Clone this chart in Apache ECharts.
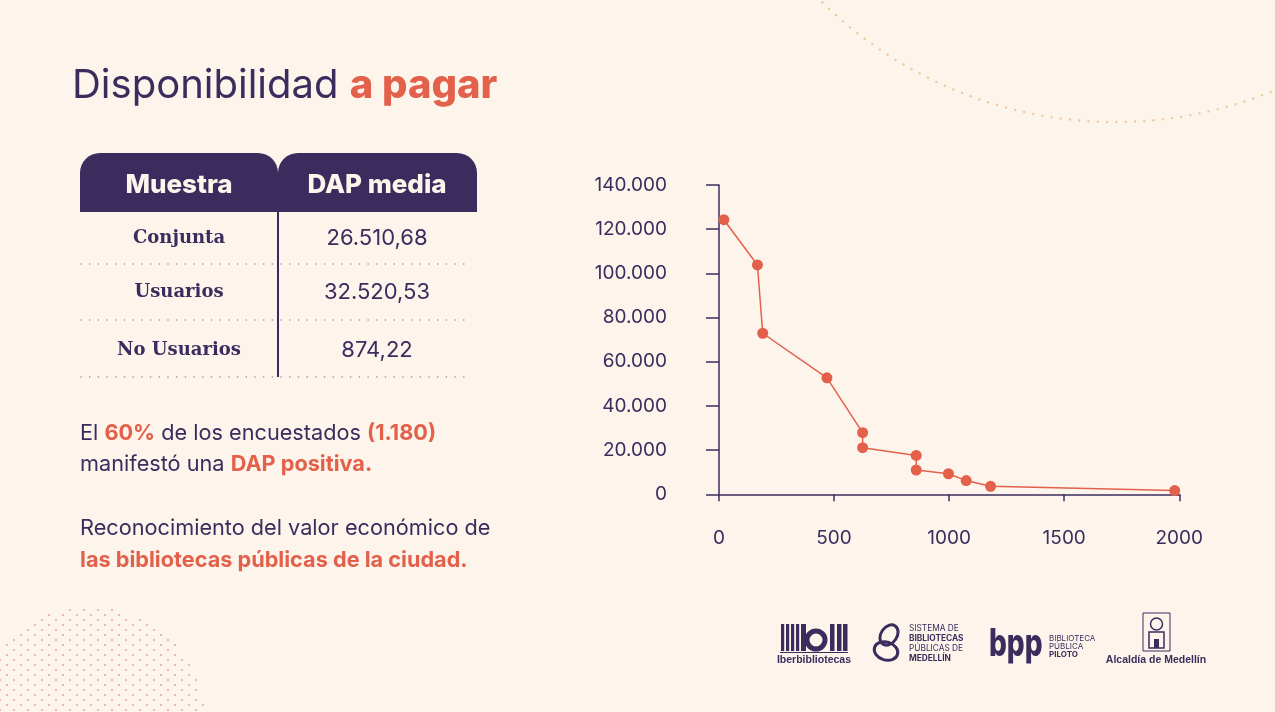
<!DOCTYPE html>
<html>
<head>
<meta charset="utf-8">
<script src="https://cdn.jsdelivr.net/npm/echarts@6/dist/echarts.min.js"></script>
<style>
html,body{margin:0;padding:0;background:#fdf5ec;}
#c{width:1275px;height:712px;}
</style>
</head>
<body>
<div id="c"></div>
<script>
// ---- data ----
const sampleNames = ['Conjunta', 'Usuarios', 'No Usuarios'];
const sampleDap = ['26.510,68', '32.520,53', '874,22'];
const tableHeaders = ['Muestra', 'DAP media'];
const respondents = [21, 167, 190, 469, 624, 624, 857, 857, 997, 1074, 1180, 1980];
const dapValues = [124300, 103800, 72900, 52700, 27900, 21100, 17600, 11000, 9300, 6200, 3600, 1700];
const yTicks = [0, 20000, 40000, 60000, 80000, 100000, 120000, 140000];
const xTicks = [0, 500, 1000, 1500, 2000];

const PURPLE = '#3b2c5e';
const CORAL = '#e3604b';
const SANS = 'Inter, "Noto Sans", sans-serif';
const SLAB = '"DejaVu Serif", serif';

const chart = echarts.init(document.getElementById('c'), null, {renderer: 'canvas'});

const g = [];
// top-right dotted arc
(function () {
  const cx = 1115, cy = -296, r = 418;
  const step = 9.3 / r;
  for (let a = 0.9; a < 2.5; a += step) {
    g.push({type: 'circle', silent: true, shape: {cx: cx + r * Math.cos(a), cy: cy + r * Math.sin(a), r: 1.2},
      style: {fill: '#f0c998'}});
  }
})();
// bottom-left dotted disc
(function () {
  const cx = 90, cy = 722, R = 115;
  let row = 0;
  for (let y = 560; y < 720; y += 5, row++) {
    const off = (row % 2) * 7;
    for (let x = -14 + off; x < 260; x += 14) {
      if ((x - cx) * (x - cx) + (y - cy) * (y - cy) <= R * R) {
        g.push({type: 'circle', silent: true, shape: {cx: x, cy: y, r: 1.1}, style: {fill: '#d9928c', opacity: 0.75}});
      }
    }
  }
})();

// title
g.push({type: 'text', style: {x: 72, y: 86, verticalAlign: 'middle',
  text: '{a|Disponibilidad }{b|a pagar}',
  rich: {a: {fontFamily: SANS, fontSize: 40, fill: PURPLE, fontWeight: 400},
         b: {fontFamily: SANS, fontSize: 40, fill: CORAL, fontWeight: 800}}}});

// table header
g.push({type: 'rect', shape: {x: 80, y: 153, width: 198, height: 59, r: [20, 20, 0, 0]}, style: {fill: PURPLE}});
g.push({type: 'rect', shape: {x: 278, y: 153, width: 199, height: 59, r: [20, 20, 0, 0]}, style: {fill: PURPLE}});
g.push({type: 'text', style: {x: 179, y: 185, align: 'center', verticalAlign: 'middle', text: tableHeaders[0],
  fontFamily: SANS, fontSize: 26, fontWeight: 800, fill: '#fdf5ec'}});
g.push({type: 'text', style: {x: 377, y: 185, align: 'center', verticalAlign: 'middle', text: tableHeaders[1],
  fontFamily: SANS, fontSize: 26, fontWeight: 800, fill: '#fdf5ec'}});
// divider
g.push({type: 'line', shape: {x1: 278, y1: 212, x2: 278, y2: 377}, style: {stroke: PURPLE, lineWidth: 2}});
const rowY = [238, 292, 350];
const lineY = [264, 320, 377];
sampleNames.forEach((n, i) => {
  g.push({type: 'text', style: {x: 179, y: rowY[i], align: 'center', verticalAlign: 'middle', text: n,
    fontFamily: SLAB, fontSize: 18, fontWeight: 700, fill: PURPLE}});
  g.push({type: 'text', style: {x: 377, y: rowY[i], align: 'center', verticalAlign: 'middle', text: sampleDap[i],
    fontFamily: SANS, fontSize: 22, fontWeight: 400, fill: PURPLE}});
  for (let x = 81; x < 471; x += 8.7) {
    g.push({type: 'circle', silent: true, shape: {cx: x, cy: lineY[i], r: 0.8}, style: {fill: '#948aa0'}});
  }
});

// paragraph text
const para = (y, txt) => g.push({type: 'text', style: {x: 80, y: y, verticalAlign: 'middle', text: txt,
  rich: {a: {fontFamily: SANS, fontSize: 21.7, fill: PURPLE, fontWeight: 400},
         b: {fontFamily: SANS, fontSize: 21.7, fill: CORAL, fontWeight: 700}}}});
para(433, '{a|El }{b|60%}{a| de los encuestados }{b|(1.180)}');
para(464, '{a|manifestó una }{b|DAP positiva.}');
para(528, '{a|Reconocimiento del valor económico de}');
para(560, '{b|las bibliotecas públicas de la ciudad.}');

// logos (approximate)
// Iberbibliotecas
[781, 786, 791, 796].forEach(x => g.push({type: 'rect', shape: {x: x, y: 624, width: 3.2, height: 27}, style: {fill: PURPLE}}));
g.push({type: 'rect', shape: {x: 801, y: 624, width: 5, height: 27}, style: {fill: PURPLE}});
g.push({type: 'circle', shape: {cx: 816, cy: 640, r: 9}, style: {fill: 'none', stroke: PURPLE, lineWidth: 5}});
[830, 837, 843].forEach(x => g.push({type: 'rect', shape: {x: x, y: 624, width: 4.5, height: 27}, style: {fill: PURPLE}}));
g.push({type: 'rect', shape: {x: 780, y: 652, width: 68, height: 1}, style: {fill: PURPLE}});
g.push({type: 'text', style: {x: 814, y: 660, align: 'center', verticalAlign: 'middle', text: 'Iberbibliotecas',
  fontFamily: '"Liberation Sans Narrow", "Liberation Sans", sans-serif', fontSize: 10.5, fontWeight: 700, fill: PURPLE}});
// Sistema logo
g.push({type: 'ellipse', shape: {cx: 889, cy: 635, rx: 8, ry: 11}, rotation: -0.6, originX: 889, originY: 635,
  style: {fill: 'none', stroke: PURPLE, lineWidth: 3}});
g.push({type: 'ellipse', shape: {cx: 886, cy: 651, rx: 12, ry: 9}, rotation: -0.3, originX: 886, originY: 651,
  style: {fill: 'none', stroke: PURPLE, lineWidth: 3}});
[['SISTEMA DE', 400], ['BIBLIOTECAS', 700], ['PÚBLICAS DE', 400], ['MEDELLÍN', 700]].forEach((t, i) => {
  g.push({type: 'text', style: {x: 909, y: 629 + i * 10, verticalAlign: 'middle', text: t[0],
    fontFamily: SANS, fontSize: 8.3, fontWeight: t[1], fill: PURPLE}});
});
// bpp
g.push({type: 'text', x: 989, y: 645, scaleY: 1.35, style: {x: 0, y: 0, verticalAlign: 'middle', text: 'bpp',
  fontFamily: SANS, fontSize: 28, fontWeight: 800, fill: PURPLE}});
[['BIBLIOTECA', 400], ['PÚBLICA', 400], ['PILOTO', 700]].forEach((t, i) => {
  g.push({type: 'text', style: {x: 1049, y: 639 + i * 8, verticalAlign: 'middle', text: t[0],
    fontFamily: SANS, fontSize: 8, fontWeight: t[1], fill: PURPLE}});
});
// Alcaldía
g.push({type: 'rect', shape: {x: 1143, y: 613, width: 27, height: 38}, style: {fill: 'none', stroke: PURPLE, lineWidth: 1}});
g.push({type: 'circle', shape: {cx: 1156.5, cy: 624, r: 6}, style: {fill: 'none', stroke: PURPLE, lineWidth: 1.5}});
g.push({type: 'rect', shape: {x: 1149, y: 632, width: 15, height: 16}, style: {fill: 'none', stroke: PURPLE, lineWidth: 1.5}});
g.push({type: 'rect', shape: {x: 1154, y: 639, width: 5, height: 9}, style: {fill: PURPLE}});
g.push({type: 'text', style: {x: 1156, y: 660, align: 'center', verticalAlign: 'middle', text: 'Alcaldía de Medellín',
  fontFamily: '"Liberation Sans", sans-serif', fontSize: 10.5, fontWeight: 700, fill: PURPLE}});

const fmtY = v => String(v).replace(/\B(?=(\d{3})+(?!\d))/g, '.');
const fmtX = v => String(v);

chart.setOption({
  backgroundColor: '#fdf5ec',
  animation: false,
  grid: {left: 719, top: 185, width: 460.3, height: 309.3, containLabel: false},
  xAxis: {
    type: 'value', min: xTicks[0], max: xTicks[xTicks.length - 1], interval: 500, offset: 17.5,
    axisLine: {show: true, lineStyle: {color: PURPLE, width: 1.5}},
    axisTick: {show: true, length: 7, lineStyle: {color: PURPLE, width: 1.5}},
    splitLine: {show: false},
    axisLabel: {margin: 17, fontFamily: SANS, fontSize: 19, color: PURPLE, formatter: fmtX}
  },
  yAxis: {
    type: 'value', min: yTicks[0], max: yTicks[yTicks.length - 1], interval: 20000, offset: 14,
    axisLine: {show: true, lineStyle: {color: PURPLE, width: 1.5}},
    axisTick: {show: true, length: 13, lineStyle: {color: PURPLE, width: 1.5}},
    splitLine: {show: false},
    axisLabel: {margin: 38, fontFamily: SANS, fontSize: 19, color: PURPLE, formatter: fmtY}
  },
  series: [{
    type: 'line', clip: false,
    data: respondents.map((x, i) => [x, dapValues[i]]),
    symbol: 'circle', symbolSize: 11,
    lineStyle: {color: CORAL, width: 1.5},
    itemStyle: {color: CORAL}
  }],
  graphic: g
});
</script>
</body>
</html>
